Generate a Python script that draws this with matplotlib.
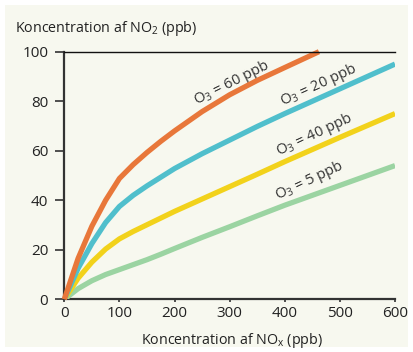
import numpy as np
import matplotlib
matplotlib.use("Agg")
import matplotlib.pyplot as plt
from matplotlib.patches import Rectangle

plt.rcParams['font.family'] = ['Open Sans', 'DejaVu Sans']
plt.rcParams['mathtext.fontset'] = 'custom'
plt.rcParams['mathtext.rm'] = 'Open Sans'
plt.rcParams['mathtext.it'] = 'Open Sans'
plt.rcParams['mathtext.default'] = 'rm'

# ===================== DATA =====================
nox = [0, 25, 50, 75, 100, 125, 150, 175, 200, 250, 300, 350, 400, 450, 500, 550, 600]

nox_60 = [0, 25, 50, 75, 100, 125, 150, 175, 200, 250, 300, 350, 400, 462]
no2_o3_60 = [0, 16.5, 29.5, 40.0, 48.8, 54.4, 59.3, 63.8, 68.0, 75.8, 82.6, 88.4, 93.6, 100]

no2_o3_20 = [0, 12.5, 22.5, 31.0, 37.5, 42.0, 45.8, 49.3, 52.8, 58.8, 64.3, 69.8, 75.0,
             80.0, 85.0, 90.0, 95.0]
no2_o3_40 = [0, 8.5, 15.0, 20.3, 24.4, 27.4, 30.1, 32.8, 35.5, 40.5, 45.5, 50.5, 55.6,
             60.5, 65.4, 70.2, 75.0]
no2_o3_5 = [0, 4.3, 7.5, 10.0, 12.0, 14.0, 16.0, 18.2, 20.5, 25.0, 29.3, 33.7, 38.0,
            42.0, 46.0, 50.0, 54.0]

labels = ["O$_3$ = 60 ppb", "O$_3$ = 20 ppb", "O$_3$ = 40 ppb", "O$_3$ = 5 ppb"]
colors = ["#e8773a", "#50bfcc", "#f2d21b", "#9bd4a2"]

BG = "#f7f8ef"

# ===================== PLOT =====================
fig = plt.figure(figsize=(4.13, 3.52), dpi=100, facecolor="white")
fig.patches.append(Rectangle((5 / 413, 5 / 352), 403 / 413, 342 / 352,
                             transform=fig.transFigure, facecolor=BG,
                             edgecolor="none", zorder=-10))
ax = fig.add_axes([64.3 / 413, 1 - 299.3 / 352, 330.7 / 413, 247.6 / 352])
ax.set_facecolor(BG)

lw = 3.8
ax.plot(nox, no2_o3_5, color=colors[3], lw=lw, solid_capstyle="butt",
        solid_joinstyle="round", zorder=3)
ax.plot(nox, no2_o3_40, color=colors[2], lw=lw, solid_capstyle="butt",
        solid_joinstyle="round", zorder=4)
ax.plot(nox, no2_o3_20, color=colors[1], lw=lw, solid_capstyle="butt",
        solid_joinstyle="round", zorder=5)
ax.plot(nox_60, no2_o3_60, color=colors[0], lw=lw, solid_capstyle="butt",
        solid_joinstyle="round", zorder=6, clip_on=False)

ax.set_xlim(0, 600)
ax.set_ylim(0, 100)
ax.set_xticks(range(0, 601, 100))
ax.set_yticks(range(0, 101, 20))

ax.spines["right"].set_visible(False)
ax.spines["top"].set_linewidth(1.0)
ax.spines["top"].set_color("#111111")
ax.spines["top"].set_zorder(7)
for s in ["left", "bottom"]:
    ax.spines[s].set_linewidth(1.6)
    ax.spines[s].set_color("#333333")

ax.tick_params(axis="y", length=6.5, width=1.2, color="#333333",
               labelsize=11, labelcolor="#222222", pad=5)
ax.tick_params(axis="x", length=2.5, width=1.2, color="#333333",
               labelsize=11, labelcolor="#222222", pad=2)

# curve labels
txt_kw = dict(fontsize=10.5, color="#333333", ha="center", va="center",
              rotation_mode="anchor")
ax.text(304, 87.5, labels[0], rotation=26.5, **txt_kw)
ax.text(461, 86.5, labels[1], rotation=24.5, **txt_kw)
ax.text(454, 66.5, labels[2], rotation=25, **txt_kw)
ax.text(444, 48.0, labels[3], rotation=25, **txt_kw)

fig.text(15 / 413, 1 - 31.7 / 352, "Koncentration af NO$_2$ (ppb)",
         fontsize=10.3, color="#222222", ha="left", va="baseline")
fig.text(231.7 / 413, 1 - 344 / 352, "Koncentration af NO$_\\mathrm{x}$ (ppb)",
         fontsize=10.3, color="#222222", ha="center", va="baseline")

fig.savefig("out.png", dpi=100, facecolor="white")
